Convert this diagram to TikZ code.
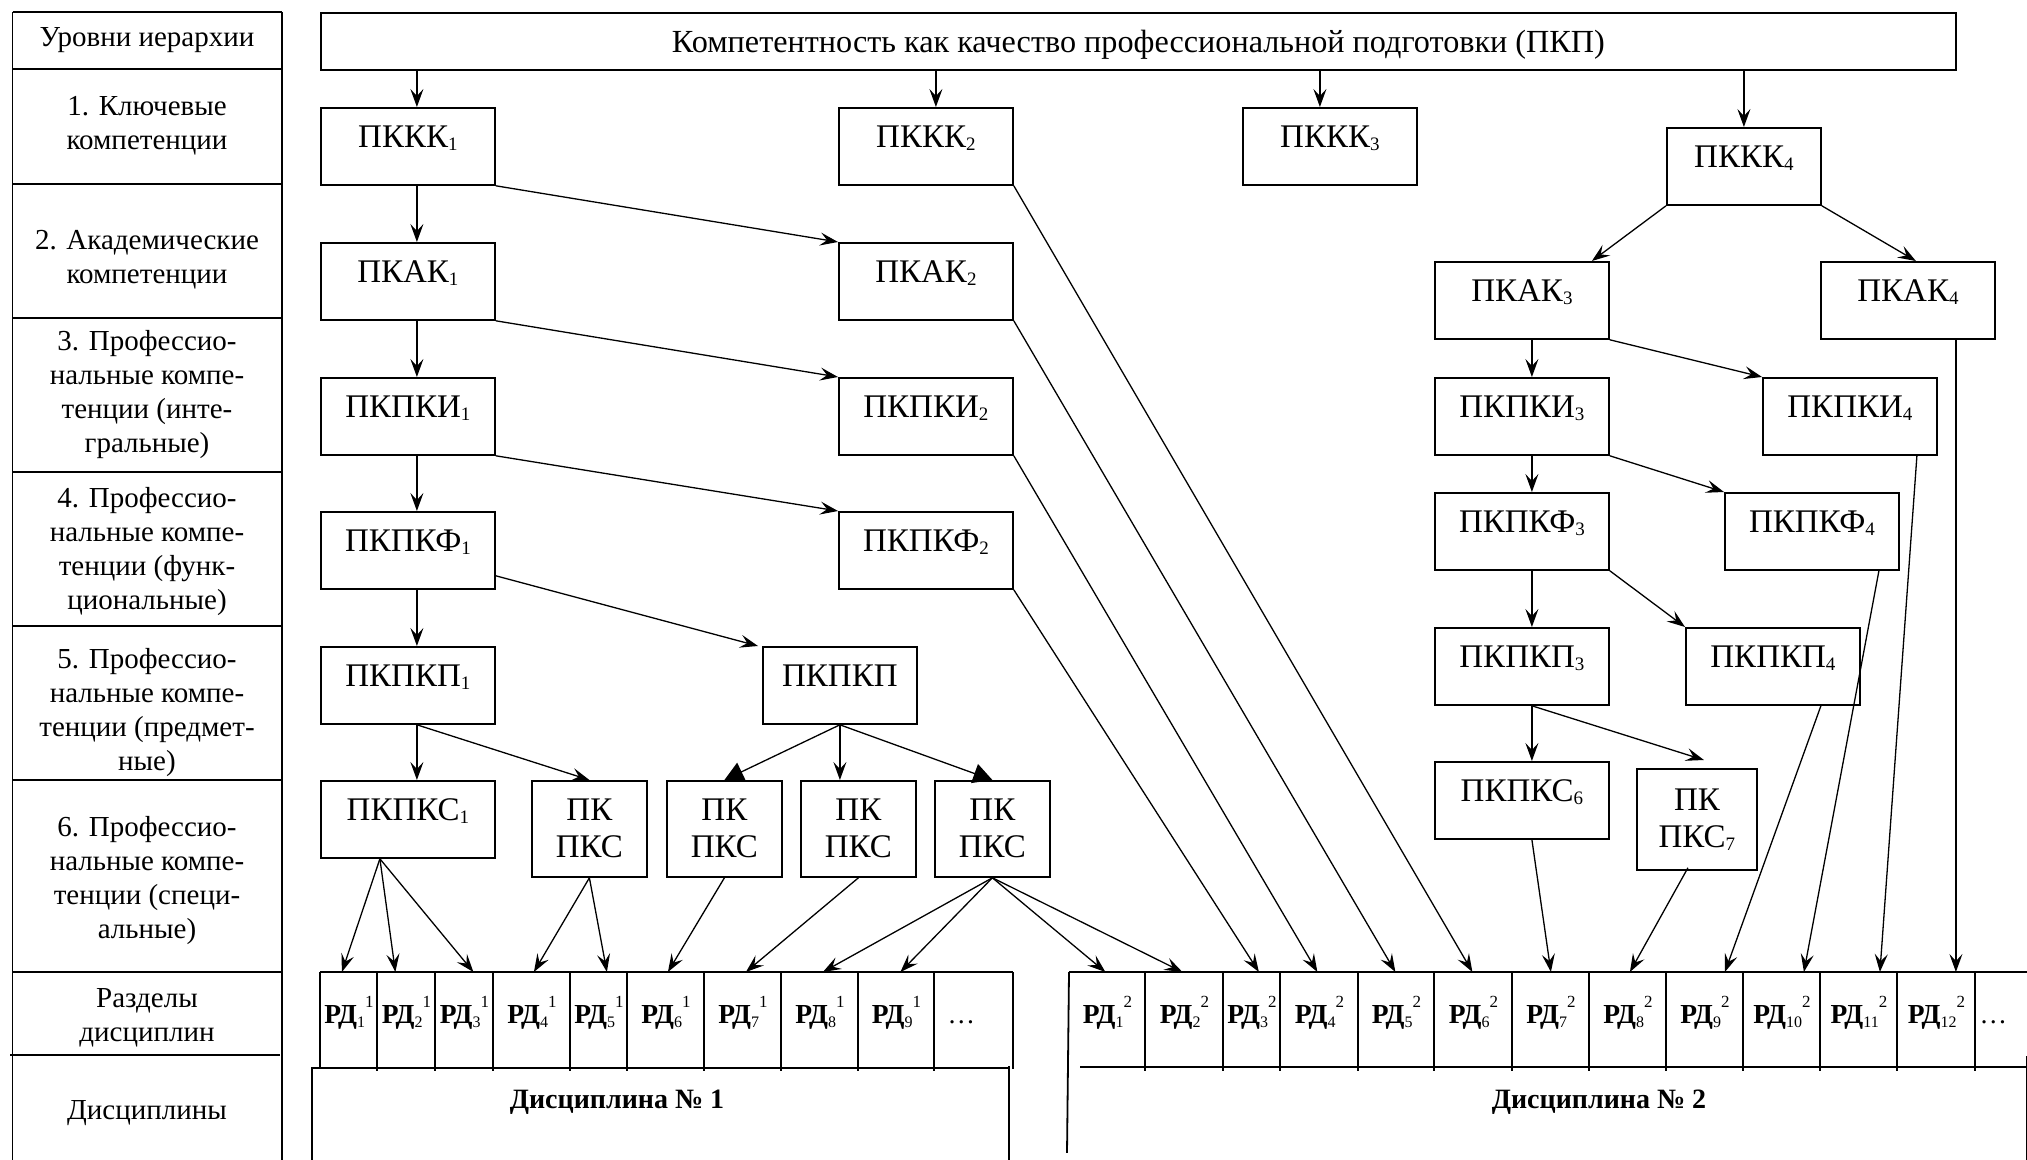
\documentclass[tikz,border=0pt]{standalone}
\usepackage{fontspec}
\setmainfont{Liberation Serif}
\usetikzlibrary{arrows.meta,calc}
\newcommand{\fntL}{\fontsize{14.5}{17}\selectfont}
\newcommand{\fntB}{\fontsize{16.5}{18.5}\selectfont}
\newcommand{\lowi}[1]{\raisebox{-1.5pt}{\fontsize{9.5}{9.5}\selectfont #1}}
\newcommand{\rdl}[2]{РД\raisebox{-1.8pt}{\fontsize{8}{8}\selectfont\mdseries #1}\raisebox{8pt}{\fontsize{8.5}{8.5}\selectfont\mdseries #2}}
\newcommand{\twol}[2]{\begin{tabular}[t]{@{}c@{}}#1\\#2\end{tabular}}
\begin{document}
\begin{tikzpicture}[x=0.5pt,y=-0.5pt,
  ln/.style={line width=0.9pt},
  bx/.style={draw, line width=0.9pt, inner sep=0pt, anchor=north west, font=\fntB,
    minimum width=87pt, minimum height=38.5pt, text height=20pt, text depth=18.5pt},
  bxtwo/.style={bx, minimum width=57.5pt, minimum height=48pt, text depth=28pt},
  rd/.style={inner sep=0pt, anchor=north west, minimum height=47.5pt, text height=25.5pt,
    text depth=22pt, font=\fontsize{13.75}{16}\selectfont\bfseries},
  lh/.style={align=center, inner sep=0pt, font=\fntL},
  dl/.style={inner sep=0pt, anchor=base, font=\fontsize{14}{16}\selectfont\bfseries},
  arr/.style={line width=0.65pt, -{Stealth[length=9pt,width=6.5pt,inset=3.5pt]}},
  tri/.style={line width=0.65pt, -{Triangle[length=9.5pt,width=10pt]}}]
\useasboundingbox (0,0) rectangle (2027,1160);
% ---------- left table ----------
\draw[ln] (12.5,12) -- (12.5,1160) (282,12) -- (282,1160);
\foreach \yy in {12,69,184,318,472,626,780,972} \draw[ln] (12.5,\yy) -- (282,\yy);
\draw[ln] (10,1055) -- (280,1055);
\node[lh] (h0) at (147,40) {Уровни иерархии};
\node[lh] (h1) at (147,126) {1. Ключевые\\компетенции};
\node[lh] (h2) at (147,260) {2. Академические\\компетенции};
\node[lh] (h3) at (147,395) {3. Профессио-\\нальные компе-\\тенции (инте-\\гральные)};
\node[lh] (h4) at (147,552) {4. Профессио-\\нальные компе-\\тенции (функ-\\циональные)};
\node[lh] (h5) at (147,713) {5. Профессио-\\нальные компе-\\тенции (предмет-\\ные)};
\node[lh] (h6) at (147,881) {6. Профессио-\\нальные компе-\\тенции (специ-\\альные)};
\node[lh] (h7) at (147,1018) {Разделы\\дисциплин};
\node[lh] (h8) at (147,1113) {Дисциплины};
% ---------- boxes ----------
\node[bx, minimum width=817.5pt, minimum height=28.5pt, text depth=8.5pt, font=\fontsize{16.1}{18}\selectfont] (title) at (320,12)
  {Компетентность как качество профессиональной подготовки (ПКП)};
\node[bx] (k1) at (320,107) {ПККК\lowi{1}};
\node[bx] (k2) at (838,107) {ПККК\lowi{2}};
\node[bx] (k3) at (1242,107) {ПККК\lowi{3}};
\node[bx, minimum width=77pt] (k4) at (1666,127) {ПККК\lowi{4}};
\node[bx] (a1) at (320,242) {ПКАК\lowi{1}};
\node[bx] (a2) at (838,242) {ПКАК\lowi{2}};
\node[bx] (a3) at (1434,261) {ПКАК\lowi{3}};
\node[bx] (a4) at (1820,261) {ПКАК\lowi{4}};
\node[bx] (i1) at (320,377) {ПКПКИ\lowi{1}};
\node[bx] (i2) at (838,377) {ПКПКИ\lowi{2}};
\node[bx] (i3) at (1434,377) {ПКПКИ\lowi{3}};
\node[bx] (i4) at (1762,377) {ПКПКИ\lowi{4}};
\node[bx] (f1) at (320,511) {ПКПКФ\lowi{1}};
\node[bx] (f2) at (838,511) {ПКПКФ\lowi{2}};
\node[bx] (f3) at (1434,492) {ПКПКФ\lowi{3}};
\node[bx] (f4) at (1724,492) {ПКПКФ\lowi{4}};
\node[bx] (p1) at (320,646) {ПКПКП\lowi{1}};
\node[bx, minimum width=77pt] (pm) at (762,646) {ПКПКП};
\node[bx] (p3) at (1434,627) {ПКПКП\lowi{3}};
\node[bx] (p4) at (1685,627) {ПКПКП\lowi{4}};
\node[bx] (s1) at (320,780) {ПКПКС\lowi{1}};
\node[bxtwo] (sa) at (531,780) {\twol{ПК}{ПКС}};
\node[bxtwo] (sb) at (666,780) {\twol{ПК}{ПКС}};
\node[bxtwo] (sc) at (800,780) {\twol{ПК}{ПКС}};
\node[bxtwo] (sd) at (934,780) {\twol{ПК}{ПКС}};
\node[bx] (s6) at (1434,761) {ПКПКС\lowi{6}};
\node[bxtwo, minimum width=60pt, minimum height=50.5pt, text height=21pt, text depth=29.5pt] (s7) at (1636,768) {\twol{ПК}{ПКС\lowi{7}}};
% ---------- discipline 1 cells ----------
\node[rd, minimum width=28.5pt] (r1) at (320,972) {\rdl{1}{1}};
\node[rd, minimum width=29pt] (r2) at (377,972) {\rdl{2}{1}};
\node[rd, minimum width=29pt] (r3) at (435,972) {\rdl{3}{1}};
\node[rd, minimum width=38.5pt] (r4) at (493,972) {\rdl{4}{1}};
\node[rd, minimum width=28.5pt] (r5) at (570,972) {\rdl{5}{1}};
\node[rd, minimum width=38.5pt] (r6) at (627,972) {\rdl{6}{1}};
\node[rd, minimum width=38.5pt] (r7) at (704,972) {\rdl{7}{1}};
\node[rd, minimum width=38.5pt] (r8) at (781,972) {\rdl{8}{1}};
\node[rd, minimum width=38pt] (r9) at (858,972) {\rdl{9}{1}};
\node[rd, minimum width=39pt] (r10) at (934,972) {\mdseries\ldots\kern12pt};
% ---------- discipline 2 cells ----------
\node[rd, minimum width=38pt] (q1) at (1069,972) {\rdl{1}{2}};
\node[rd, minimum width=39pt] (q2) at (1145,972) {\rdl{2}{2}};
\node[rd, minimum width=28.5pt] (q3) at (1223,972) {\rdl{3}{2}};
\node[rd, minimum width=39pt] (q4) at (1280,972) {\rdl{4}{2}};
\node[rd, minimum width=38pt] (q5) at (1358,972) {\rdl{5}{2}};
\node[rd, minimum width=39pt] (q6) at (1434,972) {\rdl{6}{2}};
\node[rd, minimum width=38.5pt] (q7) at (1512,972) {\rdl{7}{2}};
\node[rd, minimum width=38.5pt] (q8) at (1589,972) {\rdl{8}{2}};
\node[rd, minimum width=38.5pt] (q9) at (1666,972) {\rdl{9}{2}};
\node[rd, minimum width=38.5pt] (q10) at (1743,972) {\rdl{10}{2}};
\node[rd, minimum width=38.5pt] (q11) at (1820,972) {\rdl{11}{2}};
\node[rd, minimum width=39pt] (q12) at (1897,972) {\rdl{12}{2}};
\node[rd, minimum width=26pt] (q13) at (1975,972) {\mdseries\ldots\kern8pt};
% cell borders, discipline 1
\draw[ln] (r1.north west) -- (r10.north east);
\draw[ln] (r1.north west) -- (r1.south west);
\foreach \c in {r2,r3,r4,r5,r6,r7,r8,r9,r10} \draw[ln] (\c.north west) -- ($(\c.south west)+(0,3)$);
\draw[ln] (r10.north east) -- ($(r10.south east)+(0,1)$);
\draw[ln] ($(r1.south west)+(-8,93)$) -- ($(r1.south west)+(-8,0)$) -- ($(r10.south east)+(-4,0)$);
\draw[ln] ($(r10.south east)+(-4,-2)$) -- ($(r10.south east)+(-4,93)$);
\node[dl] (d1) at (617,1108) {Дисциплина № 1};
% cell borders, discipline 2
\draw[ln] (q1.north west) -- (q13.north east);
\draw[ln] (q1.north west) -- ($(q1.south west)+(-2,85)$);
\draw[ln] ($(q1.south west)+(11,-1)$) -- ($(q13.south east)+(0,-1)$);
\foreach \c in {q2,q3,q4,q5,q6,q7,q8,q9,q10,q11,q12,q13} \draw[ln] (\c.north west) -- ($(\c.south west)+(0,3)$);
\draw[ln] ($(q13.south east)+(-1,-12)$) -- ($(q13.south east)+(-1,93)$);
\node[dl] (d2) at (1599,1108) {Дисциплина № 2};
% ---------- column coordinates ----------
\coordinate (cL) at ($(k1.north)+(9,0)$);
\coordinate (c2) at ($(k2.north)+(10,0)$);
\coordinate (c3) at ($(k3.north)+(-10,0)$);
\coordinate (cR) at ($(a3.north)+(10,0)$);
% ---------- connectors ----------
\draw[arr] (cL |- title.south) -- (cL |- k1.north);
\draw[arr] (c2 |- title.south) -- (c2 |- k2.north);
\draw[arr] (c3 |- title.south) -- (c3 |- k3.north);
\draw[arr] (k4.north |- title.south) -- (k4.north);
\draw[arr] (cL |- k1.south) -- (cL |- a1.north);
\draw[arr] (cL |- a1.south) -- (cL |- i1.north);
\draw[arr] (cL |- i1.south) -- (cL |- f1.north);
\draw[arr] (cL |- f1.south) -- (cL |- p1.north);
\draw[arr] (cL |- p1.south) -- (cL |- s1.north);
\draw[arr] (k1.south east) -- (a2.north west);
\draw[arr] (a1.south east) -- (i2.north west);
\draw[arr] (i1.south east) -- (f2.north west);
\draw[arr] ($(f1.south east)+(0,-14)$) -- ($(pm.north west)+(-4,0)$);
\draw[arr] (cL |- p1.south) -- (sa.north);
\draw[tri] (pm.south) -- (sb.north);
\draw[arr] (pm.south) -- (pm.south |- sc.north);
\draw[tri] (pm.south) -- (sd.north);
\coordinate (s1b) at ($(s1.south)+(-28,0)$);
\draw[arr] (s1b) -- ($(r1.north)+(-7,0)$);
\draw[arr] (s1b) -- ($(r2.north)+(-11,0)$);
\draw[arr] (s1b) -- ($(r3.north)+(9,0)$);
\draw[arr] (sa.south) -- ($(r4.north)+(2,0)$);
\draw[arr] (sa.south) -- ($(r5.north)+(8,0)$);
\draw[arr] (sb.south) -- ($(r6.north)+(2,0)$);
\draw[arr] (sc.south) -- ($(r7.north)+(3,0)$);
\draw[arr] (sd.south) -- ($(r8.north)+(3,0)$);
\draw[arr] (sd.south) -- ($(r9.north)+(4,0)$);
\draw[arr] (sd.south) -- ($(q1.north)+(-2,0)$);
\draw[arr] (sd.south) -- ($(q2.north)+(-2,0)$);
\draw[arr] (k2.south east) -- ($(q6.north)+(-1,0)$);
\draw[arr] (a2.south east) -- ($(q5.north)+(-1,0)$);
\draw[arr] (i2.south east) -- ($(q4.north)+(-2,0)$);
\draw[arr] (f2.south east) -- ($(q3.north)+(7,0)$);
\draw[arr] (k4.south west) -- ($(a3.north)+(70,0)$);
\draw[arr] (k4.south east) -- ($(a4.north)+(8,0)$);
\draw[arr] (cR |- a3.south) -- (cR |- i3.north);
\draw[arr] (a3.south east) -- (i4.north west);
\coordinate (a4b) at ($(a4.south)+(48,0)$);
\draw[arr] (a4b) -- (a4b |- q12.north);
\draw[arr] (cR |- i3.south) -- (cR |- f3.north);
\draw[arr] (i3.south east) -- (f4.north west);
\draw[arr] ($(i4.south)+(67,0)$) -- ($(q11.north)+(21,0)$);
\draw[arr] (cR |- f3.south) -- (cR |- p3.north);
\draw[arr] (f3.south east) -- (p4.north west);
\draw[arr] ($(f4.south)+(67,0)$) -- ($(q10.north)+(22,0)$);
\draw[arr] (cR |- p3.south) -- (cR |- s6.north);
\draw[arr] (cR |- p3.south) -- ($(s7.north)+(7,-8)$);
\draw[arr] ($(p4.south)+(48,0)$) -- ($(q9.north)+(20,0)$);
\draw[arr] (cR |- s6.south) -- (q7.north);
\draw[arr] ($(s7.south)+(-9,-3)$) -- ($(q8.north)+(2,0)$);
\end{tikzpicture}
\end{document}
